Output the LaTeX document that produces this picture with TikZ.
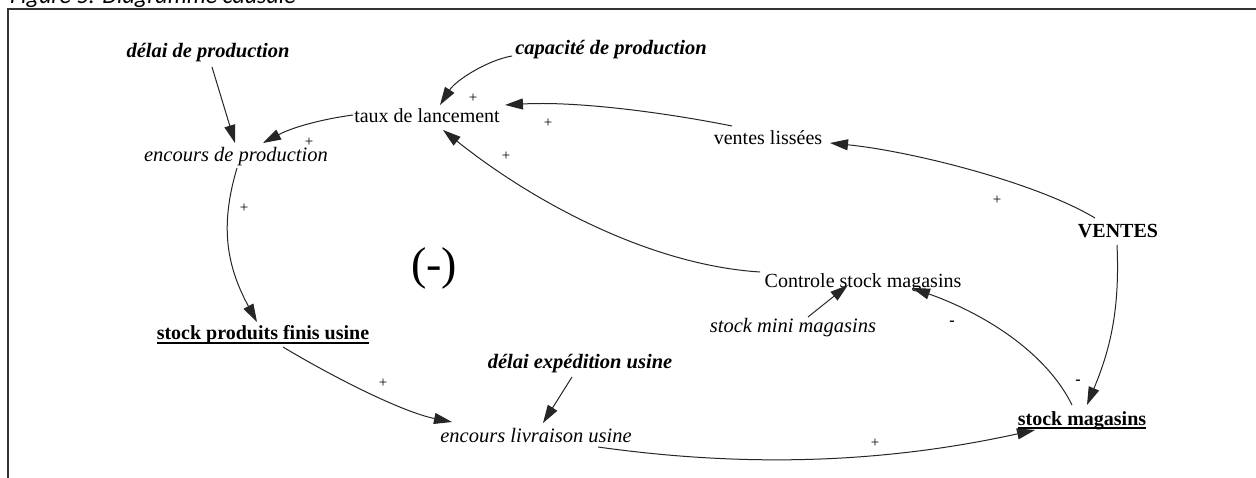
\documentclass[tikz,border=0pt]{standalone}
\usepackage{fontspec}
\setmainfont{Liberation Serif}
\newfontfamily\capfont{Carlito}
\usetikzlibrary{arrows.meta}
\newcommand\ulbox[1]{\setbox0\hbox{#1}\rlap{\raisebox{-4pt}{\rule{\wd0}{1.6pt}}}\box0}
\tikzset{
  lbl/.style={inner sep=0pt, anchor=base, font=\fontsize{20}{24}\selectfont},
  ital/.style={lbl, font=\fontsize{20.5}{24}\selectfont\itshape},
  bit/.style={lbl, font=\fontsize{20.5}{24}\selectfont\bfseries\itshape},
  bld/.style={lbl, font=\fontsize{20}{24}\selectfont\bfseries},
  sgn/.style={inner sep=0pt, font=\fontsize{15}{16}\selectfont},
  negsign/.style={inner sep=0pt, font=\fontsize{16}{16}\selectfont\bfseries},
  cnx/.style={draw=black!85, line width=1pt, -{Triangle[length=18pt,width=11pt]}},
  framebox/.style={draw=black!80, line width=1.6pt},
}
\begin{document}
\begin{tikzpicture}[x=1pt,y=-1pt]
\useasboundingbox (0,0) rectangle (1256,478);
\fill[white] (0,0) rectangle (1256,478);
\begin{scope}
\clip (0,0) rectangle (1256,478);
\node[anchor=base west, inner sep=0pt, font=\capfont\fontsize{24}{28}\selectfont\itshape] (cap) at (10,4) {Figure 5: Diagramme causale};
\end{scope}
\draw[framebox] (1256,9) -- (8,9) -- (8,478);

% nodes
\node[bit] (delai) at (208,58) {délai de production};
\node[bit] (capa) at (611,55) {capacité de production};
\node[lbl] (taux) at (427,123) {taux de lancement};
\node[ital] (encprod) at (236,162) {encours de production};
\node[lbl] (vl) at (768,145) {ventes lissées};
\node[bld] (ventes) at (1118,238) {VENTES};
\node[lbl] (ctrl) at (863,288) {Controle stock magasins};
\node[ital] (smini) at (793,333) {stock mini magasins};
\node[inner sep=0pt, font=\fontsize{46}{50}\selectfont] (loop) at (434,268) {(-)};
\node[bld] (spfu) at (263,340) {\ulbox{stock produits finis usine}};
\node[bit] (dexp) at (580,368) {délai expédition usine};
\node[ital] (encliv) at (536,442) {encours livraison usine};
\node[bld] (sm) at (1082,425) {\ulbox{stock magasins}};

% connectors
\draw[cnx] ([shift={(4,9)}]delai.base) -- ([shift={(-1,-19)}]encprod.base);
\draw[cnx] ([shift={(-99,1)}]capa.base) .. controls (488,60) and (456,80) .. ([shift={(13,-18)}]taux.base);
\draw[cnx] ([shift={(-74,-8)}]taux.base) .. controls (323,119) and (293,127) .. ([shift={(27,-19)}]encprod.base);
\draw[cnx] ([shift={(1,6)}]encprod.base) .. controls (220,225) and (226,265) .. ([shift={(-6,-18)}]spfu.base);
\draw[cnx] ([shift={(20,7)}]spfu.base) .. controls (333,377) and (402,412) .. ([shift={(-84,-20)}]encliv.base);
\draw[cnx] ([shift={(-8,9)}]dexp.base) -- ([shift={(7,-19)}]encliv.base);
\draw[cnx] ([shift={(62,5)}]encliv.base) .. controls (748,468) and (885,463) .. ([shift={(-47,5)}]sm.base);
\draw[cnx] ([shift={(-1,7)}]ventes.base) .. controls (1120,310) and (1110,350) .. ([shift={(5,-20)}]sm.base);
\draw[cnx] ([shift={(-10,-20)}]sm.base) .. controls (1045,350) and (980,312) .. ([shift={(49,0)}]ctrl.base);
\draw[cnx] ([shift={(-23,-20)}]ventes.base) .. controls (1035,182) and (910,151) .. ([shift={(62,-2)}]vl.base);
\draw[cnx] ([shift={(-36,-19)}]vl.base) .. controls (662,112) and (575,101) .. ([shift={(78,-18)}]taux.base);
\draw[cnx] ([shift={(-103,-16)}]ctrl.base) .. controls (650,265) and (533,202) .. ([shift={(16,7)}]taux.base);
\draw[cnx] ([shift={(15,-16)}]smini.base) -- ([shift={(-15,-3)}]ctrl.base);

% signs
\node[sgn] (s1) at (309,142) {+};
\node[sgn] (s2) at (473,98) {+};
\node[sgn] (s3) at (548,123) {+};
\node[sgn] (s4) at (506,156) {+};
\node[sgn] (s5) at (244,208) {+};
\node[sgn] (s6) at (383,383) {+};
\node[sgn] (s7) at (875,443) {+};
\node[sgn] (s8) at (997,200) {+};
\node[negsign] (m1) at (952,323) {-};
\node[negsign] (m2) at (1078,382) {-};
\end{tikzpicture}
\end{document}
